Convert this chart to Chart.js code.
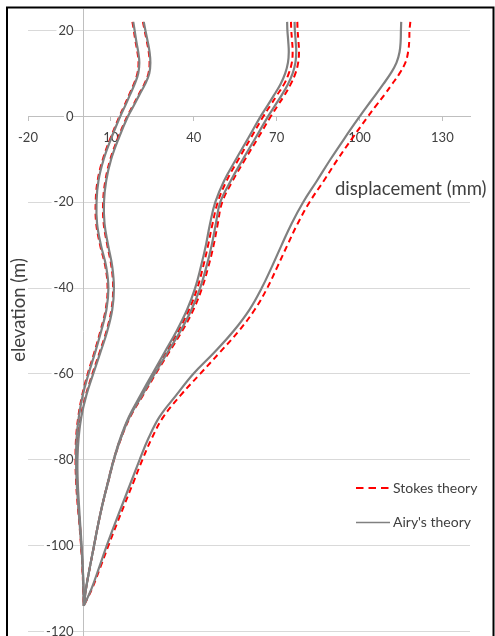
<!DOCTYPE html>
<html><head><meta charset="utf-8">
<script src="https://cdn.jsdelivr.net/npm/chart.js@4/dist/chart.umd.min.js"></script>
<style>html,body{margin:0;padding:0;background:#fff;overflow:hidden;width:495px;height:636px}
canvas{display:block}</style></head>
<body><canvas id="c" width="495" height="670" style="width:495px;height:670px"></canvas>
<script>
// elevation (m) shared by all profiles
const elevation = [22, 20, 17.5, 15, 12.5, 10, 7.5, 5, 2.5, 0, -5, -10, -15, -20, -25, -30, -35, -40, -45, -50, -55, -60, -65, -70, -75, -80, -85, -90, -95, -100, -105, -110, -114];

// Airy's theory displacement (mm)
const airy1 = [18.1, 18.6, 19.2, 19.9, 20.3, 19.9, 18.6, 16.9, 15.2, 13.4, 10.2, 7.4, 5.5, 4.8, 5.0, 6.4, 8.3, 9.1, 8.4, 6.5, 4.3, 1.9, -0.2, -1.6, -2.4, -2.6, -2.4, -1.9, -1.3, -0.7, -0.2, 0.1, 0.2];
const airy2 = [21.9, 22.5, 23.3, 24.0, 24.3, 23.9, 22.4, 20.3, 18.3, 16.2, 12.9, 10.1, 8.3, 7.5, 7.7, 9.0, 10.5, 11.1, 10.5, 8.7, 6.2, 3.6, 1.1, -0.7, -1.7, -2.1, -2.0, -1.6, -1.1, -0.6, -0.2, 0.1, 0.2];
const airy3 = [73.8, 73.9, 74.2, 74.4, 74.1, 73.1, 71.4, 69.1, 66.7, 64.2, 59.8, 55.3, 51.0, 47.8, 45.9, 44.4, 42.6, 40.5, 37.6, 33.8, 29.4, 25.0, 20.7, 16.5, 13.4, 11.0, 9.0, 7.1, 5.4, 3.9, 2.4, 1.0, 0.2];
const airy4 = [76.5, 76.6, 76.9, 77.1, 76.8, 75.8, 74.1, 71.9, 69.4, 66.9, 62.4, 57.8, 53.4, 49.6, 48.0, 46.5, 44.6, 42.3, 39.2, 35.2, 30.5, 25.8, 21.3, 16.8, 13.6, 11.1, 9.1, 7.1, 5.4, 3.9, 2.4, 1.0, 0.2];
const airy5 = [115.1, 115.0, 114.9, 114.5, 113.4, 111.3, 108.6, 105.8, 102.9, 100.1, 94.7, 89.5, 84.6, 79.6, 75.4, 71.8, 68.3, 64.6, 60.2, 54.4, 47.4, 39.8, 33.6, 27.6, 23.6, 20.4, 17.4, 14.4, 11.4, 8.5, 5.8, 3.0, 0.2];

// Stokes theory displacement (mm)
const stokes1 = [17.8, 18.3, 18.9, 19.6, 20.0, 19.6, 18.3, 16.6, 14.9, 13.1, 9.9, 7.1, 5.2, 4.5, 4.7, 6.1, 8.0, 8.8, 8.1, 6.2, 4.0, 1.6, -0.4, -1.8, -2.6, -2.8, -2.6, -2.1, -1.4, -0.8, -0.3, 0.0, 0.2];
const stokes2 = [21.6, 22.2, 23.0, 23.7, 24.0, 23.6, 22.1, 20.0, 18.0, 15.9, 12.6, 9.8, 8.0, 7.2, 7.4, 8.7, 10.2, 10.8, 10.2, 8.4, 5.9, 3.3, 0.9, -0.9, -1.9, -2.3, -2.2, -1.8, -1.2, -0.7, -0.3, 0.0, 0.2];
const stokes3 = [75.2, 75.3, 75.6, 75.8, 75.5, 74.4, 72.7, 70.2, 67.7, 65.2, 60.7, 56.2, 51.9, 48.7, 46.8, 45.2, 43.4, 41.3, 38.3, 34.4, 29.9, 25.5, 21.0, 16.7, 13.5, 11.0, 9.0, 7.1, 5.4, 3.9, 2.4, 1.0, 0.2];
const stokes4 = [77.5, 77.6, 77.9, 78.1, 77.8, 76.8, 75.1, 72.9, 70.4, 67.9, 63.3, 58.6, 54.1, 50.3, 48.7, 47.2, 45.3, 43.0, 39.9, 35.8, 31.0, 26.2, 21.6, 17.0, 13.7, 11.1, 9.1, 7.1, 5.4, 3.9, 2.4, 1.0, 0.2];
const stokes5 = [118.4, 118.1, 118.0, 117.6, 116.6, 114.5, 111.8, 109.0, 106.0, 103.1, 97.5, 92.1, 87.1, 81.9, 77.6, 73.9, 70.3, 66.6, 62.1, 56.3, 49.4, 42.3, 35.2, 29.0, 24.8, 21.4, 18.3, 15.2, 12.1, 9.1, 6.2, 3.2, 0.2];

const xTicks = [-20, 10, 40, 70, 100, 130];
const yTicks = [-120, -100, -80, -60, -40, -20, 0, 20];
const seriesNames = ["Stokes theory", "Airy's theory"];
const xTitle = "displacement (mm)";
const yTitle = "elevation (m)";

const GRAY = '#808080', RED = '#ff0000', TXT = '#404040';
const FONT = 'Lato';
function pts(xs) { return xs.map((x, i) => ({ x: x, y: elevation[i] })); }

const airySeries = [airy1, airy2, airy3, airy4, airy5];
const stokesSeries = [stokes1, stokes2, stokes3, stokes4, stokes5];
const datasets = [];
airySeries.forEach(s => datasets.push({
  label: seriesNames[1], data: pts(s), borderColor: GRAY, borderWidth: 2.2,
  pointRadius: 0, tension: 0.4, fill: false
}));
stokesSeries.forEach(s => datasets.push({
  label: seriesNames[0], data: pts(s), borderColor: RED, borderWidth: 2,
  borderDash: [6, 4], pointRadius: 0, tension: 0.4, fill: false
}));

const decor = {
  id: 'decor',
  afterDraw(chart) {
    const ctx = chart.ctx;
    ctx.save();
    ctx.fillStyle = TXT;
    ctx.textBaseline = 'middle';
    ctx.font = '18.5px ' + FONT;
    ctx.textAlign = 'left';
    ctx.fillText(xTitle, 335, 189);
    ctx.save();
    ctx.translate(19, 310);
    ctx.rotate(-Math.PI / 2);
    ctx.textAlign = 'center';
    ctx.fillText(yTitle, 0, 0);
    ctx.restore();
    // legend
    ctx.lineWidth = 2;
    ctx.strokeStyle = RED;
    ctx.setLineDash([7.5, 5]);
    ctx.beginPath(); ctx.moveTo(356, 488); ctx.lineTo(391, 488); ctx.stroke();
    ctx.setLineDash([]);
    ctx.strokeStyle = GRAY;
    ctx.lineWidth = 1.6;
    ctx.beginPath(); ctx.moveTo(356, 522.5); ctx.lineTo(390, 522.5); ctx.stroke();
    ctx.font = '14px ' + FONT;
    ctx.fillStyle = TXT;
    ctx.fillText(seriesNames[0], 393, 488);
    ctx.fillText(seriesNames[1], 393, 522);
    // frame
    ctx.strokeStyle = '#000';
    ctx.lineWidth = 2;
    ctx.strokeRect(7, 7.5, 486.5, 700);
    ctx.restore();
  }
};

new Chart(document.getElementById('c'), {
  type: 'line',
  data: { datasets: datasets },
  options: {
    indexAxis: 'y',
    responsive: false,
    animation: false,
    devicePixelRatio: 1,
    layout: { padding: { left: 28, right: 25, top: 9, bottom: 17 } },
    plugins: { legend: { display: false }, tooltip: { enabled: false } },
    scales: {
      x: {
        type: 'linear', min: -20, max: 140, position: { y: 0 },
        afterBuildTicks: s => { s.ticks = xTicks.map(v => ({ value: v })); },
        grid: { drawOnChartArea: false, drawTicks: true, tickLength: 4, color: '#bfbfbf' },
        border: { color: '#bfbfbf', width: 1 },
        ticks: { color: TXT, font: { family: FONT, size: 13 }, padding: 10, maxRotation: 0, autoSkip: false }
      },
      y: {
        type: 'linear', min: -125, max: 25, position: { x: 0 },
        afterBuildTicks: s => { s.ticks = yTicks.map(v => ({ value: v })); },
        grid: { color: '#d9d9d9', drawTicks: false, lineWidth: 1 },
        border: { color: '#bfbfbf', width: 1 },
        ticks: { color: TXT, font: { family: FONT, size: 13 }, padding: 0, autoSkip: false,
                 callback: v => v + '\u2003',
                 showLabelBackdrop: true, backdropColor: '#ffffff',
                 backdropPadding: { left: 2, right: -11, top: 0, bottom: 0 } }
      }
    }
  },
  plugins: [decor]
});
</script>
</body></html>
